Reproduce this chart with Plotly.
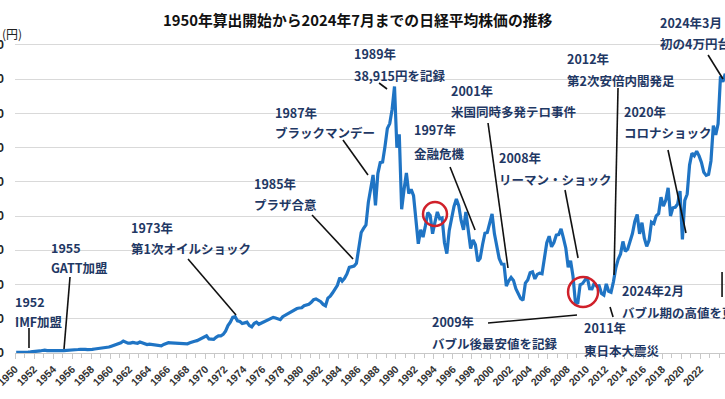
import plotly.graph_objects as go

# ---------------- data (quarterly Nikkei 225 levels, yen) -----
vals_1950s = [108, 95, 90, 101, 125, 140, 155, 166, 190, 230, 300, 362,
              420, 350, 370, 377, 360, 330, 340, 356, 360, 370, 390, 425,
              450, 480, 510, 549, 580, 540, 500, 475, 520, 580, 620, 666,
              730, 800, 840, 874]
vals_1960s = [1000, 1100, 1200, 1356, 1500, 1750, 1600, 1432, 1450, 1550, 1480, 1420,
              1600, 1450, 1380, 1225, 1300, 1260, 1200, 1216, 1180, 1050, 1250, 1417,
              1500, 1480, 1450, 1430, 1420, 1400, 1300, 1283, 1350, 1500, 1650, 1714,
              1800, 2000, 2200, 2358]
vals_1970s = [2500, 2050, 2050, 1987, 2300, 2500, 2500, 2713, 3200, 4000, 4500, 5207,
              5300, 4700, 4600, 4306, 4400, 4500, 4000, 3817, 4300, 4500, 4200, 4358,
              4600, 4700, 4800, 4990, 5200, 5100, 5000, 4865, 5300, 5500, 5700, 6001,
              6200, 6300, 6500, 6569]
vals_1980s = [6600, 6900, 7000, 7116, 7400, 7800, 7900, 7681, 7500, 7100, 6900, 8016,
              8300, 8800, 9400, 9893, 11000, 10500, 10900, 11542, 12500, 12600, 12700, 13113,
              15800, 17600, 18200, 18701, 22000, 24200, 26000, 21564, 26200, 27800, 27900, 30159,
              32800, 33500, 35600, 38915]
vals_1990s = [29980, 31940, 20983, 23848, 26300, 23300, 23900, 22983, 19300, 15950, 18000, 16924,
              18600, 20500, 20100, 17417, 19100, 20600, 19600, 19723, 16100, 14500, 17900, 19868,
              21400, 22500, 21500, 19361, 18000, 20600, 17900, 15258, 16500, 15800, 13400, 13842,
              15800, 17500, 17600, 18934]
vals_2000s = [20300, 17400, 15700, 13785, 12999, 12969, 9775, 10542, 11025, 10600, 9383, 8578,
              7973, 7700, 10219, 10676, 11715, 11858, 10824, 11488, 11668, 11584, 13574, 16111,
              17059, 15505, 16127, 17225, 17287, 18138, 16785, 15307, 12525, 13481, 11259, 7500,
              7200, 9958, 10133, 10546]
vals_2010s = [11089, 9382, 9369, 10228, 9755, 9816, 8700, 8455, 10083, 9006, 8870, 10395,
              12397, 13677, 14455, 16291, 14827, 15162, 16173, 17450, 19206, 20235, 17388, 19033,
              16758, 15575, 16449, 19114, 18909, 20033, 20356, 22764, 21454, 22304, 24120, 20014,
              21205, 21275, 21755, 23656]
vals_2020s = [16600, 22288, 23185, 27444, 29178, 28791, 29452, 28791, 27821, 26393, 25937, 26094,
              28041, 33189, 31857, 33464, 40400, 39600, 40800]

tick_years = list(range(1950, 2023, 2))
tick_labels = [str(y) for y in tick_years]
y_ticks = list(range(0, 45001, 5000))
y_tick_labels = [f"{v:,}" for v in y_ticks]

# (line1, line2, year, value of line1, value of line2)
labels = [
    ("1952", "IMF加盟", 1949.79, 7448, 4673),
    ("1955", "GATT加盟", 1953.57, 15400, 12500),
    ("1973年", "第1次オイルショック", 1961.98, 18400, 15333),
    ("1985年", "プラザ合意", 1974.90, 24825, 21758),
    ("1987年", "ブラックマンデー", 1977.11, 35193, 32127),
    ("1989年", "38,915円を記録", 1985.36, 43809, 40596),
    ("1997年", "金融危機", 1991.75, 32711, 29206),
    ("2001年", "米国同時多発テロ事件", 1995.60, 38406, 35339),
    ("2008年", "リーマン・ショック", 2000.65, 28622, 25409),
    ("2009年", "バブル後最安値を記録", 1993.61, 4527, 1460),
    ("2012年", "第2次安倍内閣発足", 2007.79, 43079, 39866),
    ("2020年", "コロナショック", 2013.78, 35339, 32127),
    ("2024年3月", "初の4万円台", 2017.56, 48336, 45269),
    ("2024年2月", "バブル期の高値を更新", 2013.60, 9200, 5987),
    ("2011年", "東日本大震災", 2009.62, 3651, 438),
]

# leader lines: (year0, value0, year1, value1)
leaders = [
    (1951.47, 3651, 1951.47, 730),
    (1955.78, 11098, 1955.15, 584),
    (1968.18, 13727, 1973.22, 5549),
    (1981.21, 20152, 1985.52, 13727),
    (1984.46, 31104, 1987.09, 25993),
    (1988.25, 39428, 1989.09, 38552),
    (1995.71, 27162, 1998.34, 17962),
    (1999.70, 33587, 2001.80, 12413),
    (2007.79, 23803, 2009.16, 13873),
    (1999.70, 4381, 2009.05, 5549),
    (2013.36, 38698, 2012.94, 11390),
    (2018.61, 29644, 2020.50, 17524),
    (2022.82, 43517, 2024.39, 40012),
    (2024.29, 8178, 2024.29, 11829),
    (2012.52, 6717, 2012.84, 5257),
]

# red highlight circles: (year0, year1, value0, value1)
circles = [
    (1992.87, 1995.39, 18546, 22051),
    (2008.11, 2011.26, 6717, 11098),
]

# ---------------- build series ----------------
values = vals_1950s + vals_1960s + vals_1970s + vals_1980s + vals_1990s + vals_2000s + vals_2010s + vals_2020s
xs = [1950 + (i + 0.5) / 4 for i in range(len(values))]

X0, X1 = 1950, 2024.6
Y0, Y1 = 0, 46000

fig = go.Figure()
fig.add_trace(go.Scatter(x=xs, y=values, mode="lines",
                         line=dict(color="#1f74c4", width=3.2), hoverinfo="skip"))

NAVY = "#1f3864"
FONT = "Noto Sans CJK JP"
ann = []
for l1, l2, yr, v1, v2 in labels:
    px = (yr - X0) / (X1 - X0)
    for txt, v in ((l1, v1), (l2, v2)):
        ann.append(dict(x=px, y=(v - Y0) / (Y1 - Y0), xref="paper", yref="paper",
                        text=f"<b>{txt}</b>", showarrow=False, xanchor="left", yanchor="middle",
                        font=dict(family=FONT, size=12.5, color=NAVY)))
ann.append(dict(x=-15 / 710, y=(353 - 33) / 315, xref="paper", yref="paper", text="(円)",
                showarrow=False, xanchor="left", yanchor="middle",
                font=dict(family=FONT, size=12, color="#222")))
ann.append(dict(x=(358 - 15) / 710, y=(353 - 20) / 315, xref="paper", yref="paper",
                text="<b>1950年算出開始から2024年7月までの日経平均株価の推移</b>",
                showarrow=False, xanchor="center", yanchor="middle",
                font=dict(family=FONT, size=14.8, color="#111")))

shapes = []
for a, b, c, d in leaders:
    shapes.append(dict(type="line", x0=a, y0=b, x1=c, y1=d, xref="x", yref="y",
                       line=dict(color="#111", width=1.6)))
for a, b, c, d in circles:
    shapes.append(dict(type="circle", x0=a, x1=b, y0=c, y1=d, xref="x", yref="y",
                       line=dict(color="#d0202a", width=2.5)))

fig.update_layout(
    width=725, height=399,
    margin=dict(l=15, r=0, t=38, b=46, autoexpand=False),
    paper_bgcolor="white", plot_bgcolor="white",
    showlegend=False,
    annotations=ann, shapes=shapes,
    font=dict(family=FONT),
)
fig.update_xaxes(range=[X0, X1], tickmode="array", tickvals=tick_years,
                 ticktext=[f"<b>{t}</b>" for t in tick_labels],
                 tickangle=-45, tickfont=dict(family="Liberation Sans", size=10.5, color="#333"),
                 showgrid=False, showline=True, linecolor="#c8c8c8", linewidth=1,
                 ticks="outside", ticklen=5, tickcolor="#c8c8c8",
                 minor=dict(dtick=1, ticks="outside", ticklen=4, tickcolor="#c8c8c8", showgrid=False),
                 zeroline=False, automargin=False, ticklabeloverflow="allow")
fig.update_yaxes(range=[Y0, Y1], tickmode="array", tickvals=y_ticks,
                 ticktext=[f"<b>{t}</b>" for t in y_tick_labels],
                 tickfont=dict(family="Liberation Sans", size=12, color="#222"),
                 showgrid=True, gridcolor="#d9d9d9", gridwidth=1, zeroline=False,
                 ticklabelstandoff=10, showline=False, automargin=False,
                 ticklabeloverflow="allow")

fig.write_html("out.html", config={"displayModeBar": False},
               post_script="document.body.style.margin='0';document.body.style.overflow='hidden';")
